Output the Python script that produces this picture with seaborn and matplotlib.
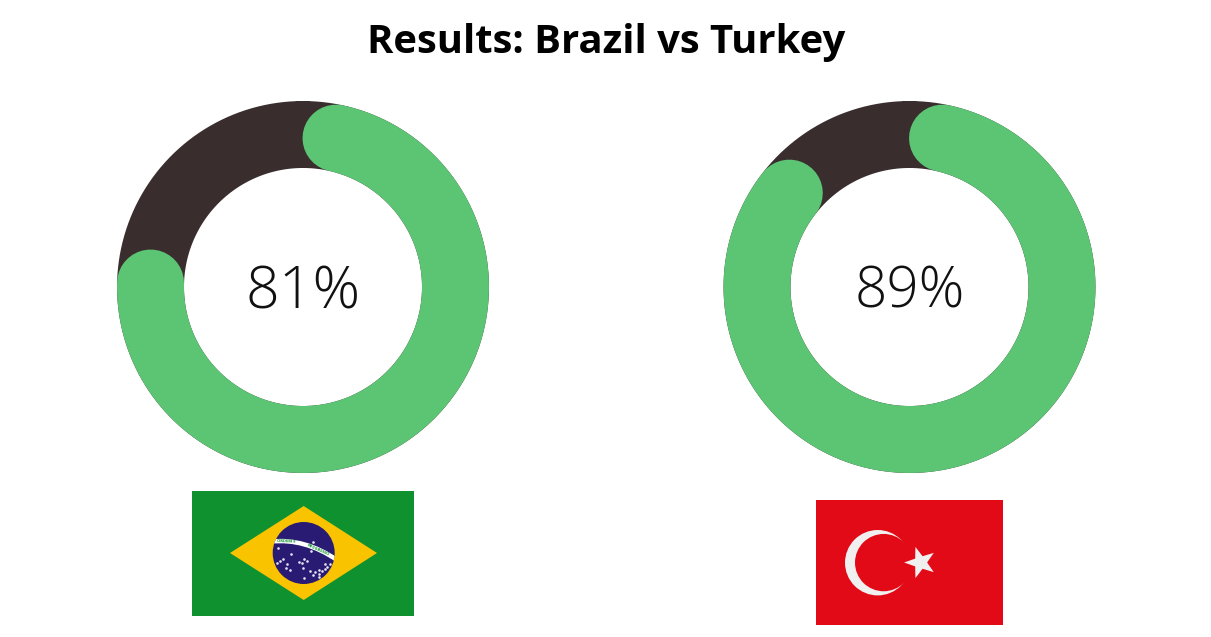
import numpy as np
import matplotlib
matplotlib.use('Agg')
import matplotlib.pyplot as plt
from matplotlib.patches import Rectangle, Polygon, Circle, PathPatch
from matplotlib.path import Path
import seaborn as sns

countries = ['Brazil', 'Turkey']
percents = [81, 89]
# green arc length between the cap centres
arc_degrees = [259, 295.5]
arc_start = 12.5

GREEN = '#5CC574'
DARK = '#3A2D2E'
WIDTH, HEIGHT = 1211, 637

sns.set_theme(style='white')
plt.rcParams['font.family'] = ['Open Sans', 'DejaVu Sans']

fig = plt.figure(figsize=(WIDTH / 100, HEIGHT / 100), dpi=100)


def ring(cx, cy, percent, arc, size):
    # polar axes 400 px wide, so one r unit is one pixel
    ax = fig.add_axes([(cx - 200) / WIDTH, (HEIGHT - cy - 200) / HEIGHT,
                       400 / WIDTH, 400 / HEIGHT], projection='polar')
    ax.set_theta_zero_location('N')
    ax.set_theta_direction(-1)
    full = np.radians(np.linspace(0, 360, 361))
    sns.lineplot(x=full, y=np.full(361, 152.5), color=DARK, linewidth=48.2,
                 sort=False, errorbar=None, ax=ax)
    theta = np.radians(np.linspace(arc_start, arc_start + arc, 300))
    sns.lineplot(x=theta, y=np.full(300, 152.5), color=GREEN, linewidth=48.2,
                 sort=False, errorbar=None, solid_capstyle='round', ax=ax)
    ax.set_ylim(0, 200)
    ax.set_axis_off()
    ax.patch.set_visible(False)
    ax.text(0.5, 0.485, f'{percent}%', transform=ax.transAxes, ha='center', va='center',
            fontsize=size, fontweight='light', color='#111111')


ring(303, 287, percents[0], arc_degrees[0], 42.5)
ring(909.5, 287, percents[1], arc_degrees[1], 40.8)

# overlay in pixel coordinates for the title and flags
over = fig.add_axes([0, 0, 1, 1])
over.set_xlim(0, WIDTH)
over.set_ylim(HEIGHT, 0)
over.set_axis_off()
over.patch.set_visible(False)

over.text(606, 42, 'Results: Brazil vs Turkey', ha='center', va='center',
          fontsize=28.8, fontweight='bold', color='black')

# Brazil flag
over.add_patch(Rectangle((191.7, 490.7), 222.3, 125, color='#0F9130', lw=0))
over.add_patch(Polygon([(230, 553), (303.7, 506), (377, 553), (303.7, 600)], color='#F9C300', lw=0))
globe = Circle((303.7, 553), 31, color='#291A73', lw=0)
over.add_patch(globe)
band = PathPatch(Path([(271, 541.5), (305, 538), (337, 560)], [Path.MOVETO, Path.CURVE3, Path.CURVE3]),
                 fc='none', ec='white', lw=3.2)
over.add_patch(band)
band.set_clip_path(globe)
over.text(286, 541.6, 'ORDEM E', fontsize=3, fontweight='bold', color='#0F9130', ha='center', va='center', rotation=-2)
over.text(318, 549.6, 'PROGRESSO', fontsize=3, fontweight='bold', color='#0F9130', ha='center', va='center', rotation=-24)
star_x = [277.7, 280.3, 277, 283.3, 286.7, 286, 290.3, 291.3, 299.3, 303.7, 306.7, 301.7, 303.3, 310,
          312.7, 315.3, 319, 322, 325, 326.7, 325.3, 330, 319, 319.3, 303.7, 310.7, 313]
star_y = [548, 561, 563.3, 559, 564, 567.7, 570.3, 554.3, 561.7, 559, 561.3, 563.3, 568, 570.7,
          575, 571.7, 570.3, 570.7, 569.3, 567.3, 564, 564, 574.3, 577.3, 577.7, 551, 541.7]
over.scatter(star_x, star_y, s=3.5, color='#E8E6F2', linewidths=0)

# Turkey flag
TR_RED = '#E30A17'
TR_WHITE = '#F0F0F0'
over.add_patch(Rectangle((816, 500), 186.7, 125, color=TR_RED, lw=0))
over.add_patch(Circle((877.7, 562.7), 32.7, color=TR_WHITE, lw=0))
over.add_patch(Circle((883.65, 562.6), 28.65, color=TR_RED, lw=0))
angles = np.radians(np.arange(10) * 36 + 180)
radii = np.where(np.arange(10) % 2 == 0, 16.4, 6.6)
over.add_patch(Polygon(np.column_stack([920.5 + radii * np.cos(angles), 562.5 + radii * np.sin(angles)]),
                       color=TR_WHITE, lw=0))

fig.savefig('out.png', dpi=100, facecolor='white')
